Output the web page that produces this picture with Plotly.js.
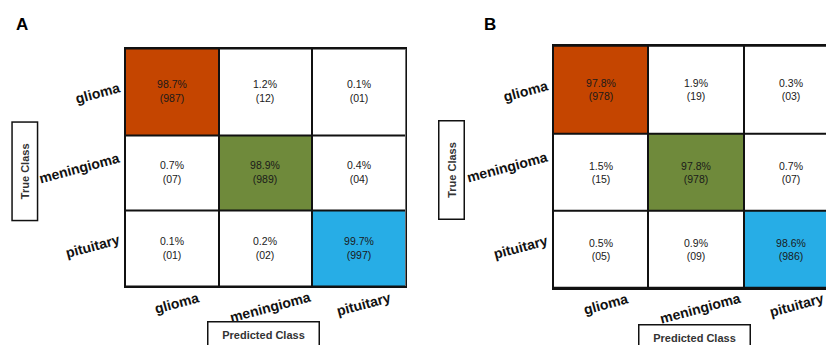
<!DOCTYPE html>
<html><head><meta charset="utf-8">
<script src="https://cdn.plot.ly/plotly-3.0.1.min.js"></script>
<style>html,body{margin:0;padding:0;background:#fff}#chart{width:826px;height:345px}</style>
</head><body><div id="chart"></div>
<script>
// ---- data ----
const classes = ['glioma', 'meningioma', 'pituitary'];
const pctA = [['98.7%', '1.2%', '0.1%'], ['0.7%', '98.9%', '0.4%'], ['0.1%', '0.2%', '99.7%']];
const countA = [[987, 12, 1], [7, 989, 4], [1, 2, 997]];
const pctB = [['97.8%', '1.9%', '0.3%'], ['1.5%', '97.8%', '0.7%'], ['0.5%', '0.9%', '98.6%']];
const countB = [[978, 19, 3], [15, 978, 7], [5, 9, 986]];
const panelLabels = ['A', 'B'];
const trueTitle = 'True Class';
const predTitle = 'Predicted Class';

// ---- styles ----
const diagColors = ['#C54500', '#6F8A3B', '#27ADE6'];
const W = 826, H = 345;
const xEdges = [0, 1, 2, 3];
const yEdges = [0, 1.15, 2.15, 3.15];
const FONT = 'Arial, "Liberation Sans", sans-serif';

function cm(pct, counts, xa, ya) {
  const text = pct.map((r, i) => r.map((p, j) => p + '<br>(' + String(counts[i][j]).padStart(2, '0') + ')'));
  const z = counts.map((r, i) => r.map((c, j) => (i === j ? i + 1 : 0)));
  return {
    type: 'heatmap', x: xEdges, y: yEdges, z: z, text: text, texttemplate: '%{text}',
    textfont: {family: FONT, size: 10.5, color: '#1a1a1a'},
    colorscale: [[0, '#ffffff'], [1 / 3, diagColors[0]], [2 / 3, diagColors[1]], [1, diagColors[2]]],
    zmin: 0, zmax: 3, showscale: false, xgap: 2, ygap: 2, hoverinfo: 'skip',
    xaxis: xa, yaxis: ya
  };
}

const data = [cm(pctA, countA, 'x', 'y'), cm(pctB, countB, 'x2', 'y2')];

const axBase = {showgrid: false, zeroline: false, showticklabels: false, ticks: '',
  showline: true, linecolor: '#111', linewidth: 1.5, fixedrange: true};

const layout = {
  width: W, height: H, margin: {l: 0, r: 0, t: 0, b: 0},
  paper_bgcolor: '#fff', plot_bgcolor: '#111', showlegend: false,
  xaxis: Object.assign({}, axBase, {domain: [125 / W, 405.6 / W], range: [0, 3], mirror: true, anchor: 'y'}),
  yaxis: Object.assign({}, axBase, {domain: [1 - 286 / H, 1 - 48.5 / H], range: [3.15, 0], mirror: true, anchor: 'x'}),
  xaxis2: Object.assign({}, axBase, {domain: [553 / W, 1], range: [0, (W - 553) / 95.3], mirror: true, anchor: 'y2'}),
  yaxis2: Object.assign({}, axBase, {domain: [1 - 288 / H, 1 - 45.7 / H], range: [3.155, 0], mirror: false, anchor: 'x2'}),
  annotations: []
};

const ann = layout.annotations;
const tickFont = {family: FONT, size: 14, color: '#111', weight: 'bold'};
const rowCenters = [0.575, 1.65, 2.65];
const rowShift = [-1, 5, 2];

function addPanel(xa, ya, xTop, labelX, tcBox, pcBox, label) {
  classes.forEach((c, j) => {
    ann.push({text: c, xref: xa, yref: 'paper', x: j + 0.5, y: 1 - xTop / H, xanchor: 'center', yanchor: 'top',
      xshift: 5, textangle: -15, showarrow: false, font: tickFont});
    ann.push({text: c, xref: xa, yref: ya, x: 0, y: rowCenters[j], xanchor: 'right', yanchor: 'middle',
      xshift: -1, yshift: rowShift[j], textangle: -15, showarrow: false, font: tickFont});
  });
  ann.push({text: label, xref: 'paper', yref: 'paper', x: labelX / W, y: 1 - 13 / H, xanchor: 'left', yanchor: 'top',
    showarrow: false, font: {family: FONT, size: 17, color: '#000', weight: 'bold'}});
  ann.push({text: trueTitle, xref: 'paper', yref: 'paper', x: tcBox[0] / W, y: 1 - tcBox[1] / H,
    xanchor: 'center', yanchor: 'middle', textangle: -90, width: 97, height: 24, borderpad: 0,
    bordercolor: '#111', borderwidth: 1.5, bgcolor: '#fff', showarrow: false,
    font: {family: FONT, size: 11, color: '#333', weight: 'bold'}});
  ann.push({text: predTitle, xref: 'paper', yref: 'paper', x: pcBox[0] / W, y: 1 - pcBox[1] / H,
    xanchor: 'center', yanchor: 'middle', width: 110, height: 24, borderpad: 0,
    bordercolor: '#111', borderwidth: 1.5, bgcolor: '#fff', showarrow: false,
    font: {family: FONT, size: 11, color: '#333', weight: 'bold'}});
}

addPanel('x', 'y', 286.5, 14, [24.3, 171], [263.3, 334.5], panelLabels[0]);
addPanel('x2', 'y2', 287.5, 482, [451, 170], [694.5, 337], panelLabels[1]);

Plotly.newPlot('chart', data, layout, {staticPlot: true, displayModeBar: false});
</script>
</body></html>
